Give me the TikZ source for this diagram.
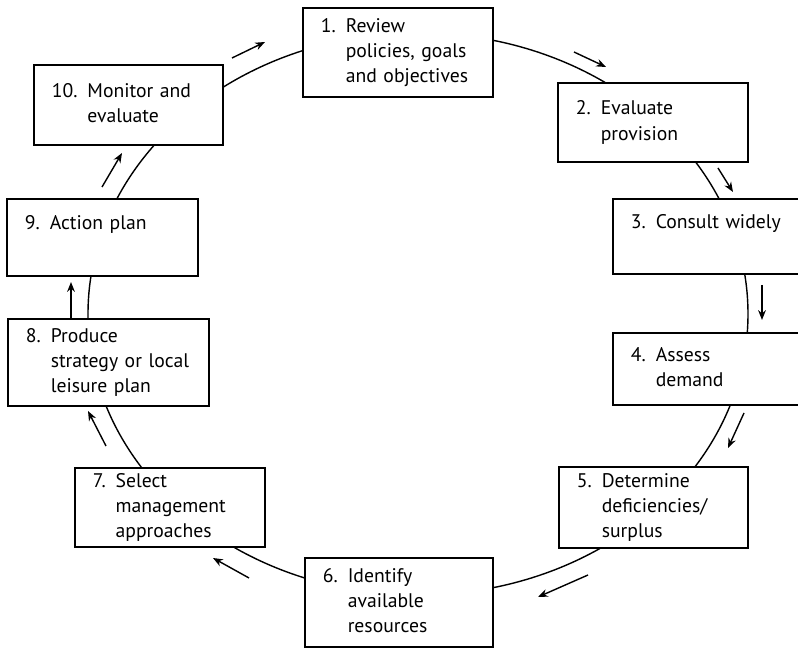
\documentclass[tikz,border=0pt]{standalone}
\usepackage{fontspec}
\setmainfont{PT Sans}
\usetikzlibrary{arrows.meta}

\newcommand{\steplabel}[2]{%
  \begin{tabular}[t]{@{}l@{\space}l@{}}#1 & \begin{tabular}[t]{@{}l@{}}#2\end{tabular}\end{tabular}}

\tikzset{
  stepbox/.style 2 args={draw, fill=white, line width=1pt, align=left,
    inner xsep=0.45cm, inner ysep=0pt, text width=#1, minimum height=#2,
    font=\fontsize{14}{17.8}\selectfont},
  ring/.style={line width=1pt},
  flow/.style={line width=1pt, -{Stealth[length=7pt,width=5.5pt]}}
}

\begin{document}
\begin{tikzpicture}[x=0.025cm, y=-0.025cm]

        \useasboundingbox (0,0) rectangle (798,649);

        % the cycle
        \draw[ring] (418,314) ellipse [x radius=330, y radius=281];

        \node[stepbox={3.85cm}{2.225cm}]  (b1)  at (398,52.5)   {\steplabel{1.}{Review\\policies, goals\\and objectives}};
        \node[stepbox={3.85cm}{1.975cm}]  (b2)  at (653,122.5)  {\steplabel{2.}{Evaluate\\provision}};
        \node[stepbox={3.775cm}{1.875cm}] (b3)  at (706.5,236.5) {\steplabel{3.}{Consult widely\\\mbox{}}};
        \node[stepbox={3.775cm}{1.8cm}]   (b4)  at (706.5,369)  {\steplabel{4.}{Assess\\demand}};
        \node[stepbox={3.825cm}{2.025cm}] (b5)  at (653.5,507.5) {\steplabel{5.}{Determine\\deficiencies/\\surplus}};
        \node[stepbox={3.8cm}{2.225cm}]   (b6)  at (399,602.5)  {\steplabel{6.}{Identify\\available\\resources}};
        \node[stepbox={3.85cm}{1.975cm}]  (b7)  at (170,507.5)  {\steplabel{7.}{Select\\management\\approaches}};
        \node[stepbox={4.125cm}{2.175cm}] (b8)  at (108.5,362.5) {\steplabel{8.}{Produce\\strategy or local\\leisure plan}};
        \node[stepbox={3.875cm}{1.925cm}] (b9)  at (102.5,237.5) {\steplabel{9.}{Action plan\\\mbox{}}};
        \node[stepbox={3.825cm}{2.0cm}]   (b10) at (128.5,105)  {\steplabel{10.}{Monitor and\\evaluate}};

        % direction arrows
        \foreach \tx/\ty/\hx/\hy in {232/58/265/42, 574/52/606/67, 718/168/733/192,
                                     762/285/762/320, 744/413/728/448, 588/575/538/597,
                                     249/578/213/558, 106/446/88/411, 71/319/71/282,
                                     102/187/122/153}
          \draw[flow] (\tx,\ty) -- (\hx,\hy);

      \end{tikzpicture}
\end{document}
